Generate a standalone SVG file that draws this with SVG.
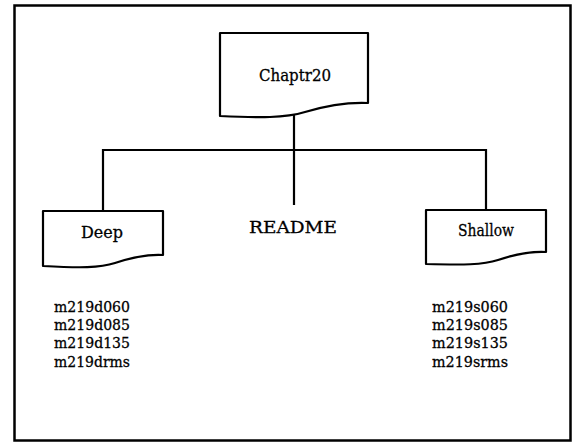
<svg xmlns="http://www.w3.org/2000/svg" width="573" height="444" viewBox="0 0 573 444">
<style>
.s{fill:#fff;stroke:#000;stroke-width:2.2;stroke-linejoin:round}
.c{fill:none;stroke:#000;stroke-width:2.2}
.t{font-family:"DejaVu Serif","Liberation Serif",serif;font-size:17px;fill:#000;stroke:#000;stroke-width:0.3}
.f{font-size:15.5px}
.m{text-anchor:middle}
</style>
<rect x="0" y="0" width="573" height="444" fill="#fff"/>
<rect x="14.5" y="5.5" width="556" height="435" fill="none" stroke="#000" stroke-width="2.5"/>
<g id="connectors">
<path class="c" d="M294 112V150M103 211V150H486V210M294 150V205"/>
</g>
<g id="chaptr20">
<path class="s" d="M220 33H368V103C345 102 325 106 305 112C285 118 260 118 220 116Z"/>
<text class="t m" x="295" y="81" textLength="72" lengthAdjust="spacingAndGlyphs">Chaptr20</text>
</g>
<g id="deep">
<path class="s" d="M43 211H163V255C145 254 130 258 115 263C100 268 80 268 43 266Z"/>
<text class="t m" x="102" y="238" textLength="42" lengthAdjust="spacingAndGlyphs">Deep</text>
</g>
<g id="readme">
<text class="t m" x="293" y="233" textLength="88" lengthAdjust="spacingAndGlyphs">README</text>
</g>
<g id="shallow">
<path class="s" d="M426 210H546V252C528 251 513 255 498 260C483 265 463 265 426 264Z"/>
<text class="t m" x="486" y="236" textLength="56" lengthAdjust="spacingAndGlyphs">Shallow</text>
</g>
<g id="deep-files">
<text class="t f" x="54" y="312" textLength="76" lengthAdjust="spacingAndGlyphs">m219d060</text>
<text class="t f" x="54" y="330" textLength="76" lengthAdjust="spacingAndGlyphs">m219d085</text>
<text class="t f" x="54" y="348" textLength="76" lengthAdjust="spacingAndGlyphs">m219d135</text>
<text class="t f" x="54" y="367" textLength="76" lengthAdjust="spacingAndGlyphs">m219drms</text>
</g>
<g id="shallow-files">
<text class="t f" x="432" y="312" textLength="76" lengthAdjust="spacingAndGlyphs">m219s060</text>
<text class="t f" x="432" y="330" textLength="76" lengthAdjust="spacingAndGlyphs">m219s085</text>
<text class="t f" x="432" y="348" textLength="76" lengthAdjust="spacingAndGlyphs">m219s135</text>
<text class="t f" x="432" y="367" textLength="76" lengthAdjust="spacingAndGlyphs">m219srms</text>
</g>
</svg>
